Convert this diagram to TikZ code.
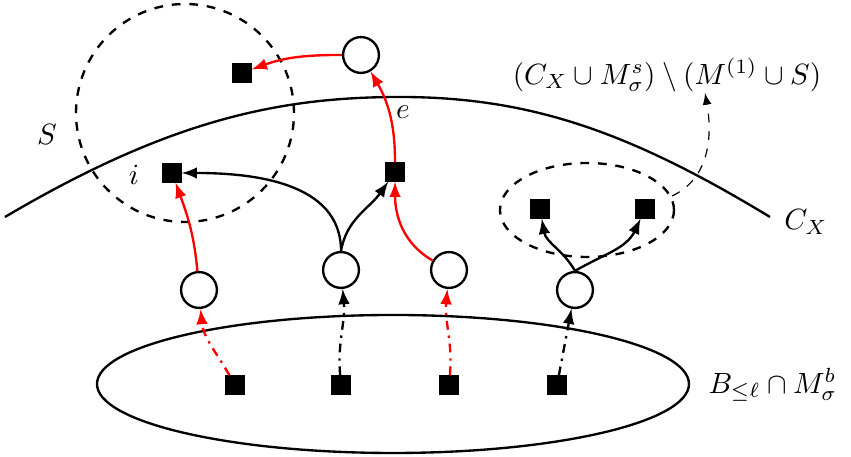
\documentclass[tikz,border=0pt]{standalone}
\usepackage{amsmath,amssymb}
\tikzset{
  blk/.style={draw,fill=black,rectangle,minimum size=0.22cm,inner sep=0pt},
  vtx/.style={draw,thick,circle,minimum size=0.43cm,inner sep=0pt},
  edg/.style={thick,-latex},
  redg/.style={thick,red,-latex}
}
\begin{document}
\begin{tikzpicture}[scale=0.6,font=\fontsize{10.4}{12}\selectfont]
\useasboundingbox (0,0) rectangle (17.02,9.14);

\draw[thick] (7.86,1.46) ellipse (5.92 and 1.38);
\draw[thick,dashed] (3.70,6.88) circle (2.18);
\draw[thick,dashed] (11.74,4.94) ellipse (1.74 and 0.94);
\draw[thick] (0.10,4.80) .. controls (3.4,6.75) and (5.6,7.2) .. (8.00,7.20)
  .. controls (10.6,7.2) and (12.6,6.5) .. (15.40,4.80);

\node at (0.94,6.44) {$S$};
\node at (2.68,5.64) {$i$};
\node at (8.06,6.90) {$e$};
\node (cx) at (16.12,4.70) {$C_X$};
\node (lbl) at (13.34,7.64) {$(C_X \cup M^s_\sigma) \setminus (M^{(1)} \cup S)$};
\node (bl) at (15.46,1.44) {$B_{\leq \ell} \cap M^b_\sigma$};

\node[blk] (b1) at (4.70,1.44) {};
\node[blk] (b2) at (6.82,1.44) {};
\node[blk] (b3) at (8.98,1.44) {};
\node[blk] (b4) at (11.14,1.44) {};
\node[vtx] (m1) at (3.98,3.34) {};
\node[vtx] (m2) at (6.82,3.74) {};
\node[vtx] (m3) at (8.98,3.74) {};
\node[vtx] (m4) at (11.50,3.34) {};
\node[vtx] (t) at (7.22,8.04) {};
\node[blk] (q) at (4.84,7.68) {};
\node[blk] (qi) at (3.44,5.68) {};
\node[blk] (qe) at (7.90,5.70) {};
\node[blk] (r1) at (10.80,4.96) {};
\node[blk] (r2) at (12.90,4.96) {};
\coordinate (gs) at (13.44,5.22);
\coordinate (ge) at (14.10,7.28);

\draw[redg,dash dot] (b1) to[out=120,in=-85] (m1);
\draw[edg,dash dot] (b2) to[out=95,in=-85] (m2);
\draw[redg,dash dot] (b3) to[out=85,in=-95] (m3);
\draw[edg,dash dot] (b4) -- (m4);

\draw[redg] (m1) to[out=95,in=-70] (qi);
\draw[edg] (m2.north) to[out=90,in=0] (qi);
\draw[edg] (m2.north) to[out=80,in=-125] (qe);
\draw[redg] (m3) to[out=150,in=-90] (qe);
\draw[redg] (qe) to[out=90,in=-60] (t);
\draw[redg] (t) to[out=180,in=20] (q);
\draw[edg] (m4.north) to[out=120,in=-80] (r1);
\draw[edg] (m4.north) to[out=30,in=-115] (r2);
\draw[thin,dashed,-latex] (gs) to[out=25,in=-80] (ge);

\end{tikzpicture}
\end{document}
